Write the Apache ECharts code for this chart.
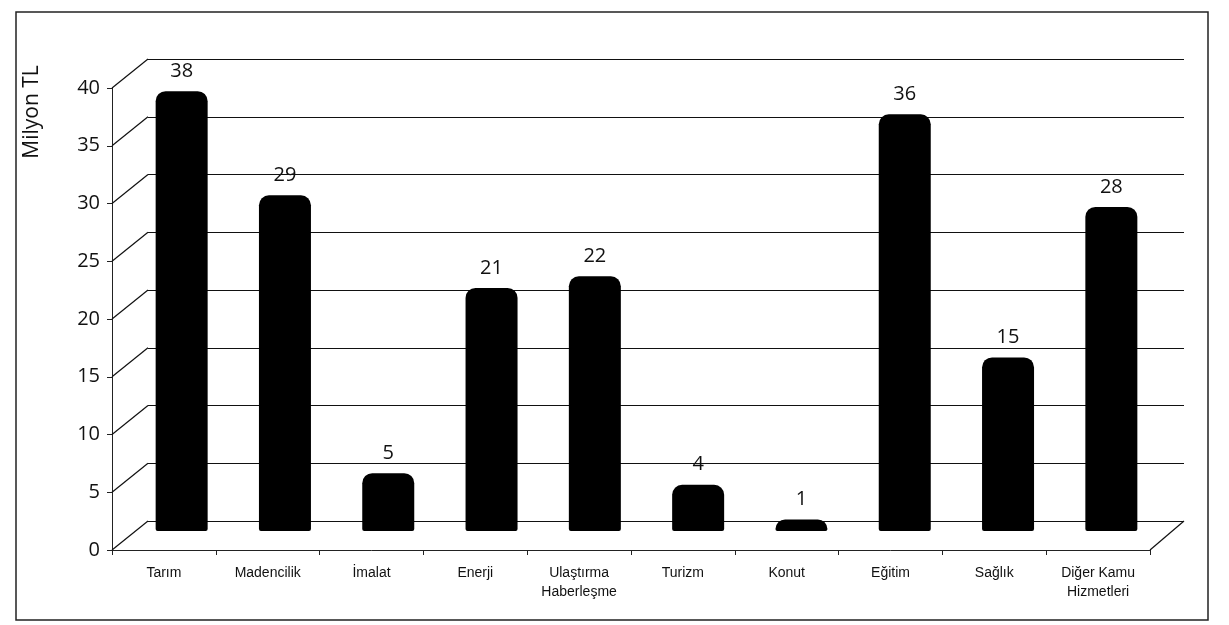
<!DOCTYPE html>
<html>
<head>
<meta charset="utf-8">
<script src="https://cdn.jsdelivr.net/npm/echarts@6/dist/echarts.min.js"></script>
<style>
  html, body { margin: 0; padding: 0; background: #fff; }
  #chart { width: 1229px; height: 625px; }
</style>
</head>
<body>
<div id="chart"></div>
<script>
// data
const categories = ['Tarım', 'Madencilik', 'İmalat', 'Enerji', 'Ulaştırma\nHaberleşme', 'Turizm', 'Konut', 'Eğitim', 'Sağlık', 'Diğer Kamu\nHizmetleri'];
const values = [38, 29, 5, 21, 22, 4, 1, 36, 15, 28];
const yMin = 0, yMax = 40, yStep = 5;
const yTicks = [0, 5, 10, 15, 20, 25, 30, 35, 40];

// layout: front axis plane, back wall, bars in between (fake depth)
const W = 1229, H = 625;
const front = { left: 112, right: 1150, top: 88, bottom: 550 };
const back = { left: 148, right: 1184, top: 59, bottom: 521 };
const mid = { left: 130, right: 1163, top: 68, bottom: 531 };

const numFont = '"Open Sans", "Liberation Sans", sans-serif';
const catFont = '"Liberation Sans Narrow", "Liberation Sans", sans-serif';

function gridOf(g) {
    return { left: g.left, right: W - g.right, top: g.top, bottom: H - g.bottom, containLabel: false };
}

const chart = echarts.init(document.getElementById('chart'));

const option = {
    backgroundColor: '#fff',
    animation: false,
    grid: [gridOf(front), gridOf(back), gridOf(mid)],
    xAxis: [
        {
            type: 'category', gridIndex: 0, data: categories,
            axisLine: { lineStyle: { color: '#222', width: 1 } },
            axisTick: { show: true, length: 5, lineStyle: { color: '#222' } },
            axisLabel: { color: '#111', fontFamily: catFont, fontSize: 14, margin: 14, lineHeight: 19, interval: 0 },
        },
        { type: 'category', gridIndex: 1, data: categories, show: false },
        { type: 'category', gridIndex: 2, data: categories, show: false },
    ],
    yAxis: [
        {
            type: 'value', gridIndex: 0, min: yMin, max: yMax, interval: yStep,
            axisLine: { show: true, lineStyle: { color: '#222', width: 1 } },
            axisTick: { show: true, length: 5, lineStyle: { color: '#222' } },
            axisLabel: { color: '#111', fontFamily: numFont, fontSize: 20, margin: 12 },
            splitLine: { show: false },
        },
        {
            type: 'value', gridIndex: 1, min: yMin, max: yMax, interval: yStep,
            axisLine: { show: false }, axisTick: { show: false }, axisLabel: { show: false },
            splitLine: { show: true, lineStyle: { color: '#111', width: 1.2 } },
        },
        {
            type: 'value', gridIndex: 2, min: yMin, max: yMax, interval: yStep,
            show: false, splitLine: { show: false },
        },
    ],
    series: [{
        type: 'bar',
        xAxisIndex: 2, yAxisIndex: 2,
        data: values,
        barWidth: 52,
        z: 5,
        itemStyle: { color: '#000', borderRadius: [10, 10, 2, 2] },
        label: {
            show: true, position: 'top', distance: 10,
            color: '#111', fontFamily: numFont, fontSize: 20,
        },
    }],
};

chart.setOption(option);

// depth lines from the front axis ticks to the back wall grid lines, floor edge, frame
const graphics = [];
yTicks.forEach(v => {
    const yf = chart.convertToPixel({ yAxisIndex: 0 }, v);
    const yb = chart.convertToPixel({ yAxisIndex: 1 }, v);
    graphics.push({
        type: 'line', z: 1,
        shape: { x1: front.left, y1: yf, x2: back.left, y2: yb },
        style: { stroke: '#111', lineWidth: 1.2 },
    });
});
const y0f = chart.convertToPixel({ yAxisIndex: 0 }, 0);
const y0b = chart.convertToPixel({ yAxisIndex: 1 }, 0);
graphics.push({
    type: 'line', z: 1,
    shape: { x1: front.right, y1: y0f, x2: back.right, y2: y0b },
    style: { stroke: '#111', lineWidth: 1.2 },
});
graphics.push({
    type: 'rect', z: 0,
    shape: { x: 16, y: 12, width: 1192, height: 608 },
    style: { fill: 'none', stroke: '#222', lineWidth: 1.5 },
});
graphics.push({
    type: 'text', z: 10,
    x: 32, y: 112, rotation: Math.PI / 2,
    style: {
        text: 'Milyon TL', fill: '#111', font: '21px ' + numFont,
        align: 'center', verticalAlign: 'middle',
    },
});
chart.setOption({ graphic: graphics });
</script>
</body>
</html>
